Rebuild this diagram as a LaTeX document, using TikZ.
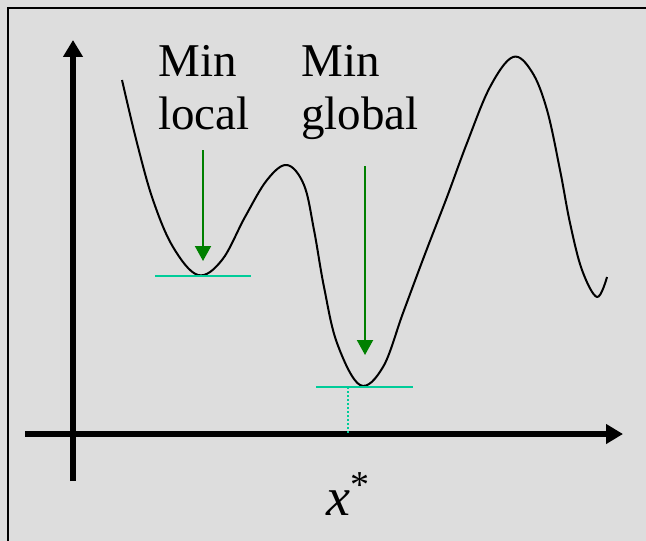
\documentclass[tikz,border=0pt]{standalone}
\usepackage{fontspec}
\setmainfont{Liberation Serif}
\usetikzlibrary{positioning,arrows.meta,calc}
\definecolor{panelgray}{RGB}{221,221,221}
\definecolor{tangent}{RGB}{0,204,153}
\definecolor{pointer}{RGB}{0,128,0}

\begin{document}
\begin{tikzpicture}[
  x=0.5pt, y=-0.5pt,
  axis/.style={-{Triangle[length=8.5pt,width=9.5pt]}, line width=3pt},
  minarrow/.style={-{Triangle[length=7.5pt,width=8pt]}, pointer, line width=1pt},
  tangentline/.style={tangent, line width=1pt},
  minlabel/.style={anchor=north west, inner sep=0pt, align=left,
    font=\fontsize{23.5pt}{26.5pt}\selectfont}
]
\useasboundingbox (0,0) rectangle (646,540);
\fill[panelgray] (-20,-20) rectangle (670,560);
\draw[line width=1pt] (8,560) -- (8,8) -- (670,8);

\coordinate (yfoot) at (73,481);
\coordinate (ytop) at (73,40);
\coordinate (xfoot) at (25,434);
\coordinate (xtip) at (623,434);
\draw[axis] (yfoot) -- (ytop);
\draw[axis] (xfoot) -- (xtip);

\draw[line width=1pt, line join=round] plot[smooth, tension=0.6] coordinates {
  (122,80) (137,143) (153,200) (173,247) (198,275) (222,260) (245,217)
  (267,180) (287,165) (304,185) (314,230) (324,287) (337,343) (360,385)
  (383,367) (403,313) (425,254) (447,197) (467,143) (490,87) (513,57)
  (532,72) (547,110) (560,170) (570,223) (582,270) (597,297) (607,277)};

\draw[tangentline] (155,276) -- (251,276);
\draw[tangentline] (316,387) -- (413,387);
\draw[tangentline, dash pattern=on 1pt off 1pt] (348,387) -- (348,434);

\node[minlabel] (minlocal) at (158,45) {Min\\local};
\node[minlabel] (minglobal) at (301,45) {Min\\global};

\coordinate (loctop) at (203,150);
\coordinate (loctip) at (203,261);
\coordinate (globtop) at (365,166);
\coordinate (globtip) at (365,355);
\draw[minarrow] (loctop) -- (loctip);
\draw[minarrow] (globtop) -- (globtip);

\node[anchor=base west, inner sep=0pt, font=\fontsize{27pt}{27pt}\selectfont]
  (xstar) at (326,515) {\itshape x\/\upshape\raisebox{9pt}{\fontsize{19pt}{19pt}\selectfont *}};
\end{tikzpicture}
\end{document}
